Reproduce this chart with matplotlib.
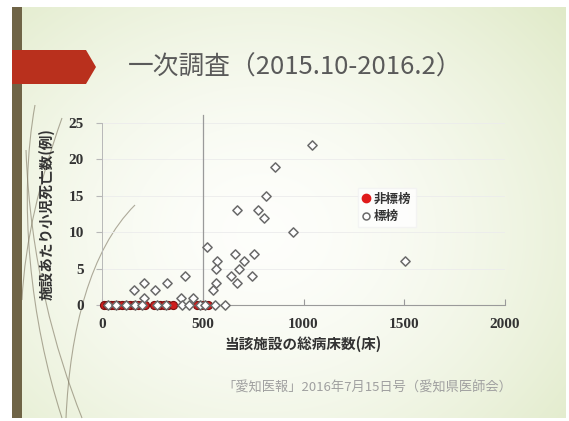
import numpy as np
import matplotlib
matplotlib.use("Agg")
import matplotlib.pyplot as plt
from matplotlib.patches import Polygon, Rectangle
from matplotlib.path import Path
from matplotlib.patches import PathPatch
from matplotlib.lines import Line2D

# 標榜 facilities: total beds vs. pediatric deaths per facility
hyobo_beds = [1040, 860, 815, 670, 775, 805, 950, 520, 660, 755, 570, 705, 1505,
              565, 680, 640, 745, 410, 672, 565, 325, 210, 553, 160, 265, 450,
              210, 390,
              30, 70, 120, 165, 200, 275, 320, 395, 430, 485, 510, 560, 610]
hyobo_deaths = [22, 19, 15, 13, 13, 12, 10, 8, 7, 7, 6, 6, 6,
                5, 5, 4, 4, 4, 3, 3, 3, 3, 2, 2, 2, 1,
                1, 1,
                0, 0, 0, 0, 0, 0, 0, 0, 0, 0, 0, 0, 0]

# 非標榜 facilities
hihyobo_beds = [10, 25, 45, 60, 80, 100, 120, 140, 160, 180, 200, 215,
                260, 290, 310, 330, 350, 470, 490, 510, 525]
hihyobo_deaths = [0] * len(hihyobo_beds)

x_ticks = [0, 500, 1000, 1500, 2000]
y_ticks = [0, 5, 10, 15, 20, 25]

title = "一次調査（2015.10-2016.2）"
x_label = "当該施設の総病床数(床)"
y_label = "施設あたり小児死亡数(例)"
source = "「愛知医報」2016年7月15日号（愛知県医師会）"
legend_labels = ["非標榜", "標榜"]

W, H = 569, 421
fig = plt.figure(figsize=(W / 100, H / 100), dpi=100)
fig.patch.set_facecolor("white")

# slide background with soft radial gradient
bg = fig.add_axes([0, 0, 1, 1], zorder=0)
bg.set_xlim(0, W)
bg.set_ylim(H, 0)
bg.axis("off")
sx0, sy0, sx1, sy1 = 12, 7, 566, 418
gy, gx = np.mgrid[0:200, 0:300]
u = gx / 299.0
v = gy / 199.0
d = np.sqrt(((u - 0.45) / 0.75) ** 2 + ((v - 0.55) / 0.85) ** 2)
d = np.clip(d, 0, 1) ** 1.6
c0 = np.array([0.995, 0.997, 0.985])
c1 = np.array([0.875, 0.915, 0.78])
img = c0[None, None, :] * (1 - d[..., None]) + c1[None, None, :] * d[..., None]
bg.imshow(img, extent=(sx0, sx1, sy1, sy0), aspect="auto", zorder=0,
          interpolation="bilinear")

# left accent bar
bg.add_patch(Rectangle((sx0, sy0), 10, sy1 - sy0, facecolor="#6f6446",
                       edgecolor="none", zorder=2))
# red arrow tab
bg.add_patch(Polygon([(sx0, 50), (86, 50), (96, 67), (86, 84), (sx0, 84)],
                     closed=True, facecolor="#b9301d", edgecolor="none", zorder=3))

# decorative thin curves on the left
curves = [
    [(35, 105), (18, 200), (30, 320), (62, 418)],
    [(26, 150), (30, 260), (55, 350), (82, 418)],
    [(135, 205), (90, 250), (70, 330), (66, 418)],
    [(62, 118), (40, 180), (25, 240), (22, 300)],
]
for pts in curves:
    path = Path(pts, [Path.MOVETO, Path.CURVE4, Path.CURVE4, Path.CURVE4])
    bg.add_patch(PathPatch(path, facecolor="none", edgecolor="#7d7560",
                           lw=0.8, alpha=0.6, zorder=2))

bg.text(128, 68, title, fontsize=18.5, color="#5a5a5a", va="center", ha="left",
        family=["Noto Sans CJK JP", "DejaVu Sans"], zorder=4)
bg.text(222, 388, source, fontsize=9.5, color="#a0a0a0", va="center", ha="left",
        family=["Noto Sans CJK JP", "DejaVu Sans"], zorder=4)

# scatter chart
left, right = 102 / W, 505 / W
bottom, top = (H - 305) / H, (H - 123) / H
ax = fig.add_axes([left, bottom, right - left, top - bottom], zorder=5)
ax.set_facecolor("none")
ax.set_xlim(0, 2000)
ax.set_ylim(0, 25)

for y in y_ticks[1:]:
    ax.axhline(y, color="#ececec", lw=0.6, zorder=0)
ax.axvline(500, ymin=0, ymax=1.045, color="#9a9a9a", lw=0.9, clip_on=False,
           zorder=1)

ax.scatter(hihyobo_beds, hihyobo_deaths, s=34, marker="o", facecolor="#cf1d1d",
           edgecolor="#7a1212", linewidth=0.8, zorder=3, clip_on=False)
ax.scatter(hyobo_beds, hyobo_deaths, s=22, marker="D", facecolor="white",
           edgecolor="#6a6a6a", linewidth=1.1, zorder=4, clip_on=False)

for s in ["top", "right"]:
    ax.spines[s].set_visible(False)
ax.spines["left"].set_color("#b8b8b8")
ax.spines["bottom"].set_color("#9a9a9a")
ax.spines["left"].set_linewidth(0.7)
ax.spines["bottom"].set_linewidth(0.8)

ax.set_xticks(x_ticks)
ax.set_yticks(y_ticks)
tick_font = dict(family="Liberation Serif", weight="bold", size=11)
ax.set_xticklabels([str(t) for t in x_ticks], **tick_font, color="#333333")
ax.set_yticklabels([str(t) for t in y_ticks], **tick_font, color="#333333")
ax.tick_params(axis="x", direction="in", length=4, pad=9, color="#9a9a9a")
ax.tick_params(axis="y", direction="out", length=4, pad=9, color="#b8b8b8")

lab_font = dict(family=["Noto Sans CJK JP", "DejaVu Sans"], weight="bold",
                size=10.5, color="#333333")
ax.set_xlabel(x_label, labelpad=4, **lab_font)
ax.set_ylabel(y_label, labelpad=10, **lab_font)

handles = [
    Line2D([], [], marker="o", ls="none", markersize=6, markerfacecolor="#e01b1b",
           markeredgecolor="#e01b1b"),
    Line2D([], [], marker="o", ls="none", markersize=5, markerfacecolor="white",
           markeredgecolor="#6a6a6a", markeredgewidth=1.1),
]
leg = ax.legend(handles, legend_labels, loc="upper left",
                bbox_to_anchor=((352 - 102) / 403, (305 - 182) / 182),
                frameon=True, fancybox=False, handlelength=0.6, handletextpad=0.3,
                borderpad=0.35, labelspacing=0.35,
                prop=dict(family=["Noto Sans CJK JP", "DejaVu Sans"],
                          weight="bold", size=9))
leg.get_frame().set_facecolor("white")
leg.get_frame().set_edgecolor("#f2f2f2")
for t in leg.get_texts():
    t.set_color("#333333")

fig.savefig("out.png", dpi=100)
